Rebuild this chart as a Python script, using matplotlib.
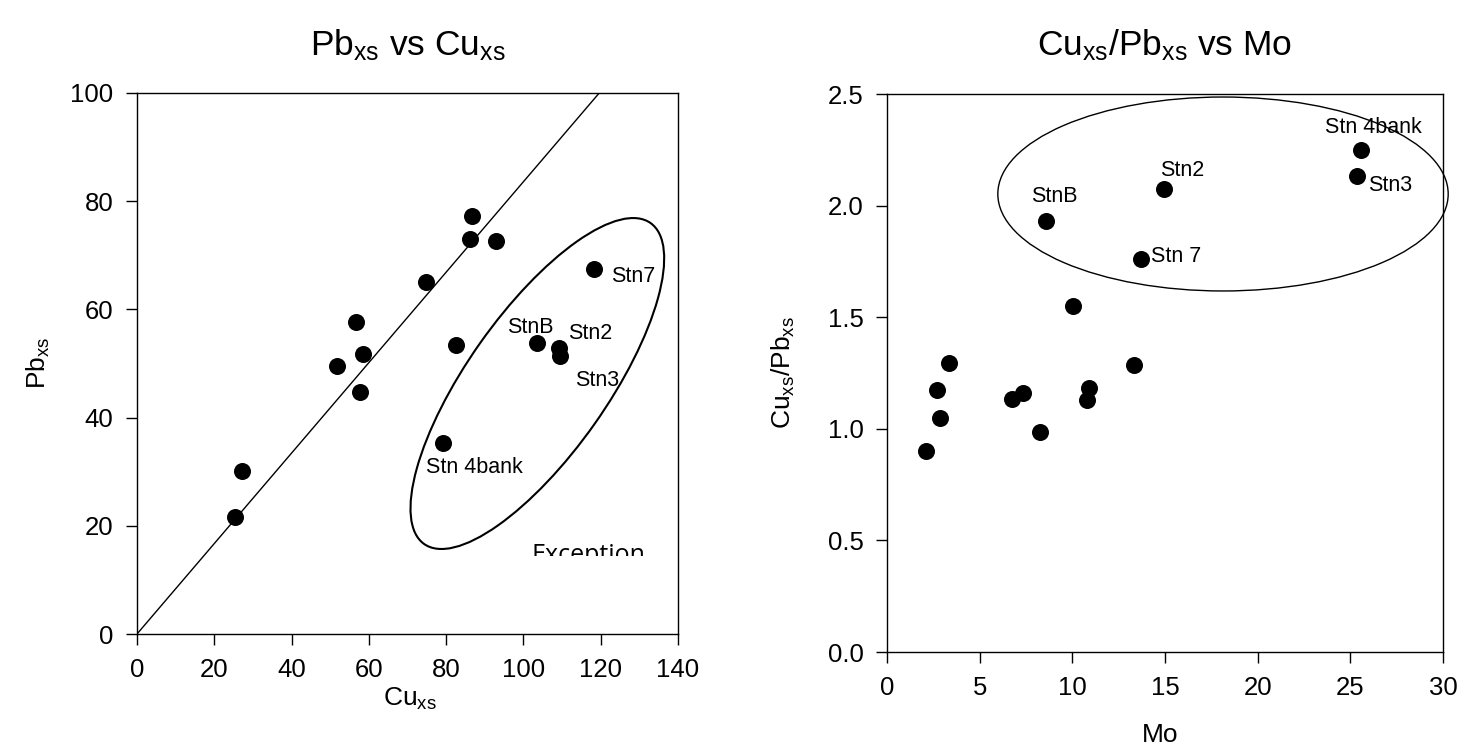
import matplotlib
matplotlib.use("Agg")
import matplotlib.pyplot as plt
from matplotlib.patches import Ellipse
from matplotlib.transforms import Bbox, TransformedBbox

plt.rcParams['font.family'] = ['Liberation Sans', 'DejaVu Sans']
plt.rcParams['mathtext.fontset'] = 'custom'
plt.rcParams['mathtext.rm'] = 'Liberation Sans'
plt.rcParams['mathtext.it'] = 'Liberation Sans:italic'
plt.rcParams['mathtext.bf'] = 'Liberation Sans:bold'

# ---- Left panel data: Pb_xs vs Cu_xs ----
cu_xs = [25.4, 27.1, 51.7, 56.7, 58.6, 57.8, 74.9, 86.7, 86.1, 92.8, 82.6,
         103.5, 109.1, 109.4, 118.2, 79.2]
pb_xs = [21.6, 30.1, 49.6, 57.7, 51.7, 44.7, 65.1, 77.3, 73.0, 72.6, 53.5,
         53.8, 52.9, 51.3, 67.4, 35.3]
left_labels = ["Stn7", "StnB", "Stn2", "Stn3", "Stn 4bank"]
left_label_x = [122.7, 95.8, 111.5, 113.4, 74.8]
left_label_y = [66.0, 56.7, 55.5, 46.8, 30.7]
line_slope = 0.836
left_xticks = [0, 20, 40, 60, 80, 100, 120, 140]
left_yticks = [0, 20, 40, 60, 80, 100]

# ---- Right panel data: Cu_xs/Pb_xs vs Mo ----
mo = [2.13, 2.70, 2.86, 3.34, 6.73, 7.32, 8.27, 8.57, 10.03, 10.89, 10.80,
      13.34, 13.72, 14.94, 25.36, 25.60]
ratio = [0.900, 1.172, 1.047, 1.296, 1.135, 1.159, 0.986, 1.932, 1.551, 1.184,
         1.128, 1.286, 1.762, 2.075, 2.131, 2.248]
right_labels = ["Stn 4bank", "Stn3", "StnB", "Stn2", "Stn 7"]
right_label_x = [23.64, 25.94, 7.80, 14.73, 14.25]
right_label_y = [2.352, 2.089, 2.042, 2.157, 1.774]
right_xticks = [0, 5, 10, 15, 20, 25, 30]
right_yticks = [0.0, 0.5, 1.0, 1.5, 2.0, 2.5]

W, H = 1463, 755
fig = plt.figure(figsize=(W / 100, H / 100), dpi=100)

def px_rect(x0, y0, x1, y1):
    return [x0 / W, 1 - y1 / H, (x1 - x0) / W, (y1 - y0) / H]

axL = fig.add_axes(px_rect(137, 93, 678, 634))
axR = fig.add_axes(px_rect(887, 94, 1443, 652))

tick_fs = 18.5
lab_fs = 15.5
for ax in (axL, axR):
    for sp in ax.spines.values():
        sp.set_linewidth(1.0)
        sp.set_color('black')
    ax.tick_params(direction='out', length=8, width=1.0, labelsize=tick_fs,
                   top=False, right=False, pad=9)

# Left panel
axL.scatter(cu_xs, pb_xs, s=150, color='black', zorder=3, linewidths=0)
axL.axline((0, 0), slope=line_slope, color='black', lw=1.0)
axL.set_xlim(0, 140)
axL.set_ylim(0, 100)
axL.set_xticks(left_xticks)
axL.set_yticks(left_yticks)
for t, x, y in zip(left_labels, left_label_x, left_label_y):
    axL.text(x, y, t, fontsize=lab_fs, ha='left', va='center')
ell = Ellipse((0.740, 0.463), width=0.726, height=0.259, angle=54.8,
              transform=axL.transAxes, fill=False, edgecolor='black', lw=1.5)
axL.add_patch(ell)
exc = axL.text(116.7, 13.3, "Exception", fontsize=18, ha='center',
               va='baseline', family=['Open Sans', 'DejaVu Sans'])
exc.set_clip_box(TransformedBbox(Bbox([[90, 14.4], [140, 30]]), axL.transData))
exc.set_clip_on(True)

# Right panel
axR.scatter(mo, ratio, s=150, color='black', zorder=3, linewidths=0)
axR.set_xlim(0, 30)
axR.set_ylim(0, 2.5)
axR.set_xticks(right_xticks)
axR.set_yticks(right_yticks)
axR.set_yticklabels([f"{v:.1f}" for v in right_yticks])
for t, x, y in zip(right_labels, right_label_x, right_label_y):
    axR.text(x, y, t, fontsize=lab_fs, ha='left', va='center')
ellR = Ellipse((18.13, 2.052), width=24.3, height=0.869, fill=False,
               edgecolor='black', lw=1.0, clip_on=False)
axR.add_patch(ellR)

# Titles and axis labels
title_fs = 25.5
axis_fs = 19
fig.text(407.5 / W, 1 - 45 / H, r"Pb$_{\mathrm{xs}}$ vs Cu$_{\mathrm{xs}}$",
         fontsize=title_fs, ha='center', va='center')
fig.text(1165 / W, 1 - 45 / H, r"Cu$_{\mathrm{xs}}$/Pb$_{\mathrm{xs}}$ vs Mo",
         fontsize=title_fs, ha='center', va='center')
fig.text(410 / W, 1 - 699 / H, r"Cu$_{\mathrm{xs}}$", fontsize=axis_fs,
         ha='center', va='center')
fig.text(1160 / W, 1 - 735 / H, "Mo", fontsize=axis_fs, ha='center', va='center')
fig.text(38 / W, 1 - 363 / H, r"Pb$_{\mathrm{xs}}$", fontsize=axis_fs,
         ha='center', va='center', rotation=90)
fig.text(783 / W, 1 - 373 / H, r"Cu$_{\mathrm{xs}}$/Pb$_{\mathrm{xs}}$",
         fontsize=axis_fs, ha='center', va='center', rotation=90)

fig.savefig("out.png", dpi=100)
